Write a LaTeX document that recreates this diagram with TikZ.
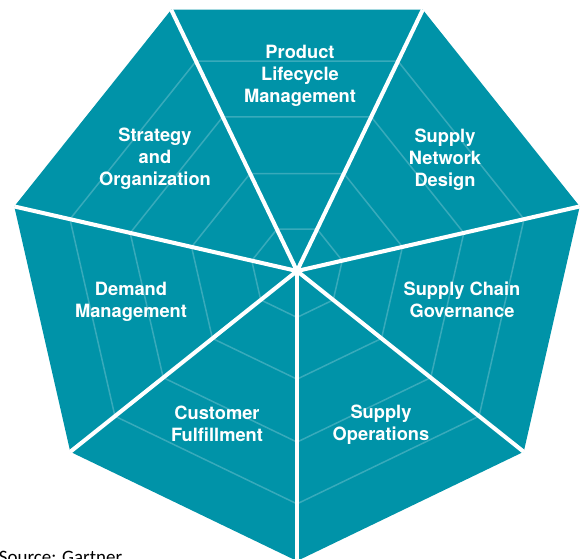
\documentclass[tikz,border=0pt]{standalone}
\usepackage{fontspec}
\setmainfont{TeX Gyre Heros}
\newfontfamily\sourcefont{Carlito}
\definecolor{wheelteal}{HTML}{0093A8}
\tikzset{
    ring/.style={draw=white,draw opacity=0.22,line width=0.85pt},
    spoke/.style={draw=white,line width=2.3pt},
    seglabel/.style={text=white,align=center,inner sep=0pt,
        font=\fontsize{10.4}{12.6}\selectfont\bfseries},
}

\begin{document}
\begin{tikzpicture}[line join=round]
        \useasboundingbox (-5.94,-5.76) rectangle (5.72,5.42);
        \fill[wheelteal] (-90:5.8)--(-38.57:5.8)--(12.86:5.8)--(64.29:5.8)--(115.71:5.8)--(167.14:5.8)--(218.57:5.8)--cycle;
        \draw[ring,scale=0.16] (-90:5.8)--(-38.57:5.8)--(12.86:5.8)--(64.29:5.8)--(115.71:5.8)--(167.14:5.8)--(218.57:5.8)--cycle;
        \draw[ring,scale=0.373] (-90:5.8)--(-38.57:5.8)--(12.86:5.8)--(64.29:5.8)--(115.71:5.8)--(167.14:5.8)--(218.57:5.8)--cycle;
        \draw[ring,scale=0.59] (-90:5.8)--(-38.57:5.8)--(12.86:5.8)--(64.29:5.8)--(115.71:5.8)--(167.14:5.8)--(218.57:5.8)--cycle;
        \draw[ring,scale=0.803] (-90:5.8)--(-38.57:5.8)--(12.86:5.8)--(64.29:5.8)--(115.71:5.8)--(167.14:5.8)--(218.57:5.8)--cycle;
        \draw[spoke] (0,0)--(-90:5.8);
        \draw[spoke,rotate=51.43] (0,0)--(-90:5.8);
        \draw[spoke,rotate=102.86] (0,0)--(-90:5.8);
        \draw[spoke,rotate=154.29] (0,0)--(-90:5.8);
        \draw[spoke,rotate=205.71] (0,0)--(-90:5.8);
        \draw[spoke,rotate=257.14] (0,0)--(-90:5.8);
        \draw[spoke,rotate=308.57] (0,0)--(-90:5.8);
        \node[seglabel] (plm) at (0.06,3.91) {Product\\Lifecycle\\Management};
        \node[seglabel] (network) at (2.96,2.22) {Supply\\Network\\Design};
        \node[seglabel] (governance) at (3.30,-0.58) {Supply Chain\\Governance};
        \node[seglabel] (operations) at (1.68,-3.07) {Supply\\Operations};
        \node[seglabel] (fulfillment) at (-1.60,-3.05) {Customer\\Fulfillment};
        \node[seglabel] (demand) at (-3.32,-0.62) {Demand\\Management};
        \node[seglabel] (strategy) at (-2.84,2.24) {Strategy\\and\\Organization};
        \node[anchor=base west,inner sep=0pt,font=\sourcefont\fontsize{10.8}{13}\selectfont] (source) at (-5.97,-5.86) {Source: Gartner};
    \end{tikzpicture}
\end{document}
